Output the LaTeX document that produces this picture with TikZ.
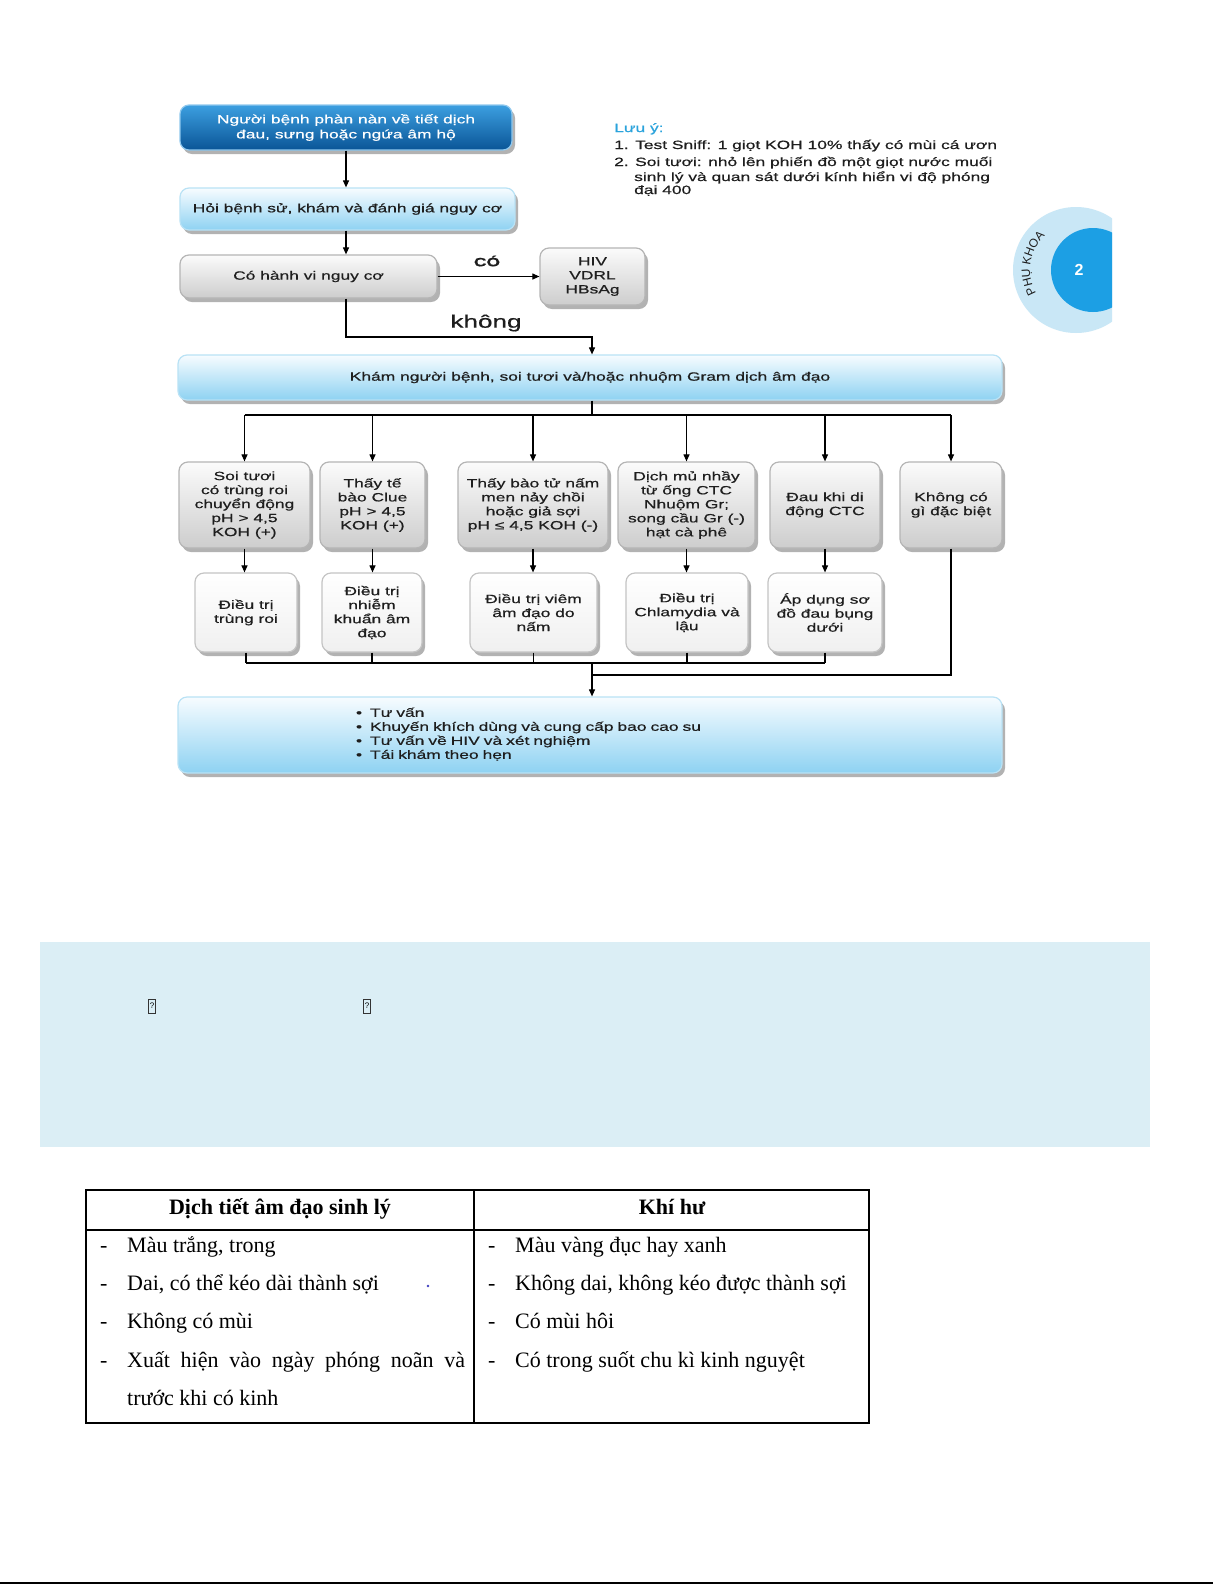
\documentclass[tikz,border=0pt]{standalone}
\usepackage{fontspec}
\setmainfont{Liberation Serif}
\newfontfamily\dfont[FakeStretch=1.45,FakeBold=0.6]{Liberation Sans}
\newfontfamily\pfont{Liberation Sans}
\usetikzlibrary{arrows.meta,shadows,decorations.text,calc}
\definecolor{dkTop}{HTML}{3C9FE0}
\definecolor{dkBot}{HTML}{0A5597}
\definecolor{dkEdge}{HTML}{8FC8EE}
\definecolor{ltTop}{HTML}{F7FCFF}
\definecolor{ltBot}{HTML}{8ED2F2}
\definecolor{ltEdge}{HTML}{B9E2F5}
\definecolor{gyTop}{HTML}{FBFBFB}
\definecolor{gyBot}{HTML}{CDCDCD}
\definecolor{gyEdge}{HTML}{B5B5B5}
\definecolor{whEdge}{HTML}{C4C4C4}
\definecolor{noteBlue}{HTML}{2AA3DC}
\definecolor{ringLt}{HTML}{C9E7F6}
\definecolor{ringDk}{HTML}{1C9FE4}
\definecolor{panel}{HTML}{DBEEF5}
\definecolor{txt}{HTML}{1E1E1E}
\tikzset{
 boxbase/.style={rounded corners=9pt, line width=1.2pt, align=center, inner sep=0pt,
   font=\dfont\fontsize{12}{14}\selectfont, text=txt,
   drop shadow={shadow xshift=3pt, shadow yshift=-4pt, fill=black!60, opacity=0.5}},
 darkbox/.style={boxbase, draw=dkEdge, top color=dkTop, bottom color=dkBot, text=white},
 lightbox/.style={boxbase, draw=ltEdge, top color=ltTop, bottom color=ltBot},
 graybox/.style={boxbase, draw=gyEdge, top color=gyTop, bottom color=gyBot},
 whitebox/.style={boxbase, draw=whEdge, top color=white, bottom color=black!6},
 arr/.style={line width=1.1pt, -{Triangle[length=7pt,width=6pt]}},
 ln/.style={line width=1.1pt},
 lbl/.style={font=\dfont\fontsize{12}{14}\selectfont, text=txt, inner sep=0pt},
 note/.style={font=\dfont\fontsize{12}{14}\selectfont, text=txt, inner sep=0pt, anchor=base west},
 tcell/.style={font=\fontsize{22}{26}\selectfont, inner sep=0pt, anchor=base west},
 thead/.style={font=\bfseries\fontsize{22}{26}\selectfont, inner sep=0pt, anchor=base},
}
\begin{document}
\begin{tikzpicture}[x=1pt,y=-1pt]
\useasboundingbox (0,0) rectangle (1225,1585);
\fill[white] (0,0) rectangle (1225,1585);

% flowchart boxes
\node[darkbox, minimum width=332, minimum height=45] (n1) at (346,127.5) {Người bệnh phàn nàn về tiết dịch\\[1pt]đau, sưng hoặc ngứa âm hộ};
\node[lightbox, minimum width=335, minimum height=42] (n2) at (347.5,209) {Hỏi bệnh sử, khám và đánh giá nguy cơ};
\node[graybox, minimum width=257, minimum height=43] (n3) at (308.5,276.5) {Có hành vi nguy cơ};
\node[graybox, minimum width=105, minimum height=57] (hiv) at (592.5,276.5) {HIV\\VDRL\\HBsAg};
\node[lightbox, minimum width=824, minimum height=45] (kham) at (590,377.5) {Khám người bệnh, soi tươi và/hoặc nhuộm Gram dịch âm đạo};

\node[graybox, minimum width=131, minimum height=86] (a) at (244.5,505) {Soi tươi\\có trùng roi\\chuyển động\\pH > 4,5\\KOH (+)};
\node[graybox, minimum width=105, minimum height=86] (b) at (372.5,505) {Thấy tế\\bào Clue\\pH > 4,5\\KOH (+)};
\node[graybox, minimum width=150, minimum height=86] (c) at (533,505) {Thấy bào tử nấm\\men nảy chồi\\hoặc giả sợi\\pH ≤ 4,5 KOH (-)};
\node[graybox, minimum width=137, minimum height=86] (d) at (686.5,505) {Dịch mủ nhầy\\từ ống CTC\\Nhuộm Gr;\\song cầu Gr (-)\\hạt cà phê};
\node[graybox, minimum width=110, minimum height=86] (e) at (825,505) {Đau khi di\\động CTC};
\node[graybox, minimum width=102, minimum height=86] (f) at (951,505) {Không có\\gì đặc biệt};

\node[whitebox, minimum width=102, minimum height=79] (a2) at (246,612.5) {Điều trị\\trùng roi};
\node[whitebox, minimum width=100, minimum height=79] (b2) at (372,612.5) {Điều trị\\nhiễm\\khuẩn âm\\đạo};
\node[whitebox, minimum width=127, minimum height=79] (c2) at (533.5,612.5) {Điều trị viêm\\âm đạo do\\nấm};
\node[whitebox, minimum width=122, minimum height=79] (d2) at (687,612.5) {Điều trị\\Chlamydia và\\lậu};
\node[whitebox, minimum width=114, minimum height=79] (e2) at (825,612.5) {Áp dụng sơ\\đồ đau bụng\\dưới};

\node[lightbox, minimum width=824, minimum height=76, text width=824, align=left] (fin) at (590,735)
 {\hspace*{178pt}\begin{tabular}{@{}l@{\hspace{8pt}}l@{}}•&Tư vấn\\ •&Khuyến khích dùng và cung cấp bao cao su\\ •&Tư vấn về HIV và xét nghiệm\\ •&Tái khám theo hẹn\end{tabular}};

% connectors
\draw[arr] (n1.south) -- (n1.south |- n2.north);
\draw[arr] (n1.south |- n2.south) -- (n1.south |- n3.north);
\draw[arr] (n3.east) -- (hiv.west);
\node[lbl, font=\dfont\bfseries\fontsize{12}{14}\selectfont] (lco) at (487,261) {CÓ};
\coordinate (bend) at (592,337);
\draw[arr] (n1.south |- n3.south) |- (bend) -- (bend |- kham.north);
\node[lbl, font=\dfont\fontsize{18}{20}\selectfont] (lkh) at (486,323) {không};

\coordinate (hb) at (592,415);
\draw[ln] (kham.south -| hb) -- (hb);
\draw[ln] (a.north |- hb) -- (f.north |- hb);
\foreach \bx in {a,b,c,d,e,f} \draw[arr] (\bx.north |- hb) -- (\bx.north);
\foreach \bx in {a,b,c,d,e} \draw[arr] (\bx.south) -- (\bx.south |- \bx2.north);

\coordinate (j1) at (592,663);
\coordinate (j2) at (592,675);
\foreach \bx in {a2,b2,c2,d2,e2} \draw[ln] (\bx.south) -- (\bx.south |- j1);
\draw[ln] (a2.south |- j1) -- (e2.south |- j1);
\draw[ln] (f.south) |- (j2);
\draw[arr] (j1) -- (j1 |- fin.north);

% note
\node[note, text=noteBlue] (nt0) at (614,132) {Lưu ý:};
\node[note] (nt1) at (614,149) {1. Test Sniff: 1 giọt KOH 10\% thấy có mùi cá ươn};
\node[note] (nt2) at (614,166) {2. Soi tươi: nhỏ lên phiến đồ một giọt nước muối};
\node[note] (nt3) at (634,181) {sinh lý và quan sát dưới kính hiển vi độ phóng};
\node[note] (nt4) at (634,194) {đại 400};

% badge
\begin{scope}
\clip (1000,195) rectangle (1112,345);
\fill[ringLt] (1076,270) circle[radius=63];
\fill[ringDk] (1093,270) circle[radius=42];
\end{scope}
\node[font=\pfont\bfseries\fontsize{16}{16}\selectfont, text=white, inner sep=0pt] (two) at (1079,270) {2};
\begin{scope}[shift={(1076,270)}, y=1pt]
\path[decorate, decoration={text along path, text={|\pfont\fontsize{12}{12}\selectfont\color{txt}|PHỤ KHOA}, text align=center}] (214:46) arc[start angle=214, end angle=128, radius=46];
\end{scope}

% panel
\fill[panel] (40,942) rectangle (1150,1147);
\node[draw=black!80, line width=0.6pt, inner xsep=1pt, inner ysep=0.5pt, font=\pfont\fontsize{8}{8}\selectfont, minimum width=7, minimum height=14] (q1) at (152,1006) {?};
\node[draw=black!80, line width=0.6pt, inner xsep=1pt, inner ysep=0.5pt, font=\pfont\fontsize{8}{8}\selectfont, minimum width=7, minimum height=14] (q2) at (367,1006) {?};

% table
\draw[line width=1.3pt] (86,1190) rectangle (869,1423);
\draw[line width=1.3pt] (86,1230) -- (869,1230);
\draw[line width=1.3pt] (474,1190) -- (474,1423);
\node[thead] (h1) at (280,1214) {Dịch tiết âm đạo sinh lý};
\node[thead] (h2) at (672,1214) {Khí hư};
\foreach \yy/\nm in {1252/1,1290/2,1328/3,1367/4} {
  \node[tcell] (dl\nm) at (100,\yy) {-};
  \node[tcell] (dr\nm) at (488,\yy) {-};
}
\node[tcell] (l1) at (127,1252) {Màu trắng, trong};
\node[tcell] (l2) at (127,1290) {Dai, có thể kéo dài thành sợi};
\node[tcell] (l3) at (127,1328) {Không có mùi};
\node[tcell] (l4) at (127,1367) {\makebox[338pt][s]{Xuất hiện vào ngày phóng noãn và}};
\node[tcell] (l5) at (127,1405) {trước khi có kinh};
\node[tcell] (r1) at (515,1252) {Màu vàng đục hay xanh};
\node[tcell] (r2) at (515,1290) {Không dai, không kéo được thành sợi};
\node[tcell] (r3) at (515,1328) {Có mùi hôi};
\node[tcell] (r4) at (515,1367) {Có trong suốt chu kì kinh nguyệt};
\fill[blue!50!gray] (428,1286) circle[radius=1.3];

% bottom rule
\draw[line width=2pt] (0,1583) -- (1213,1583);
\end{tikzpicture}
\end{document}
